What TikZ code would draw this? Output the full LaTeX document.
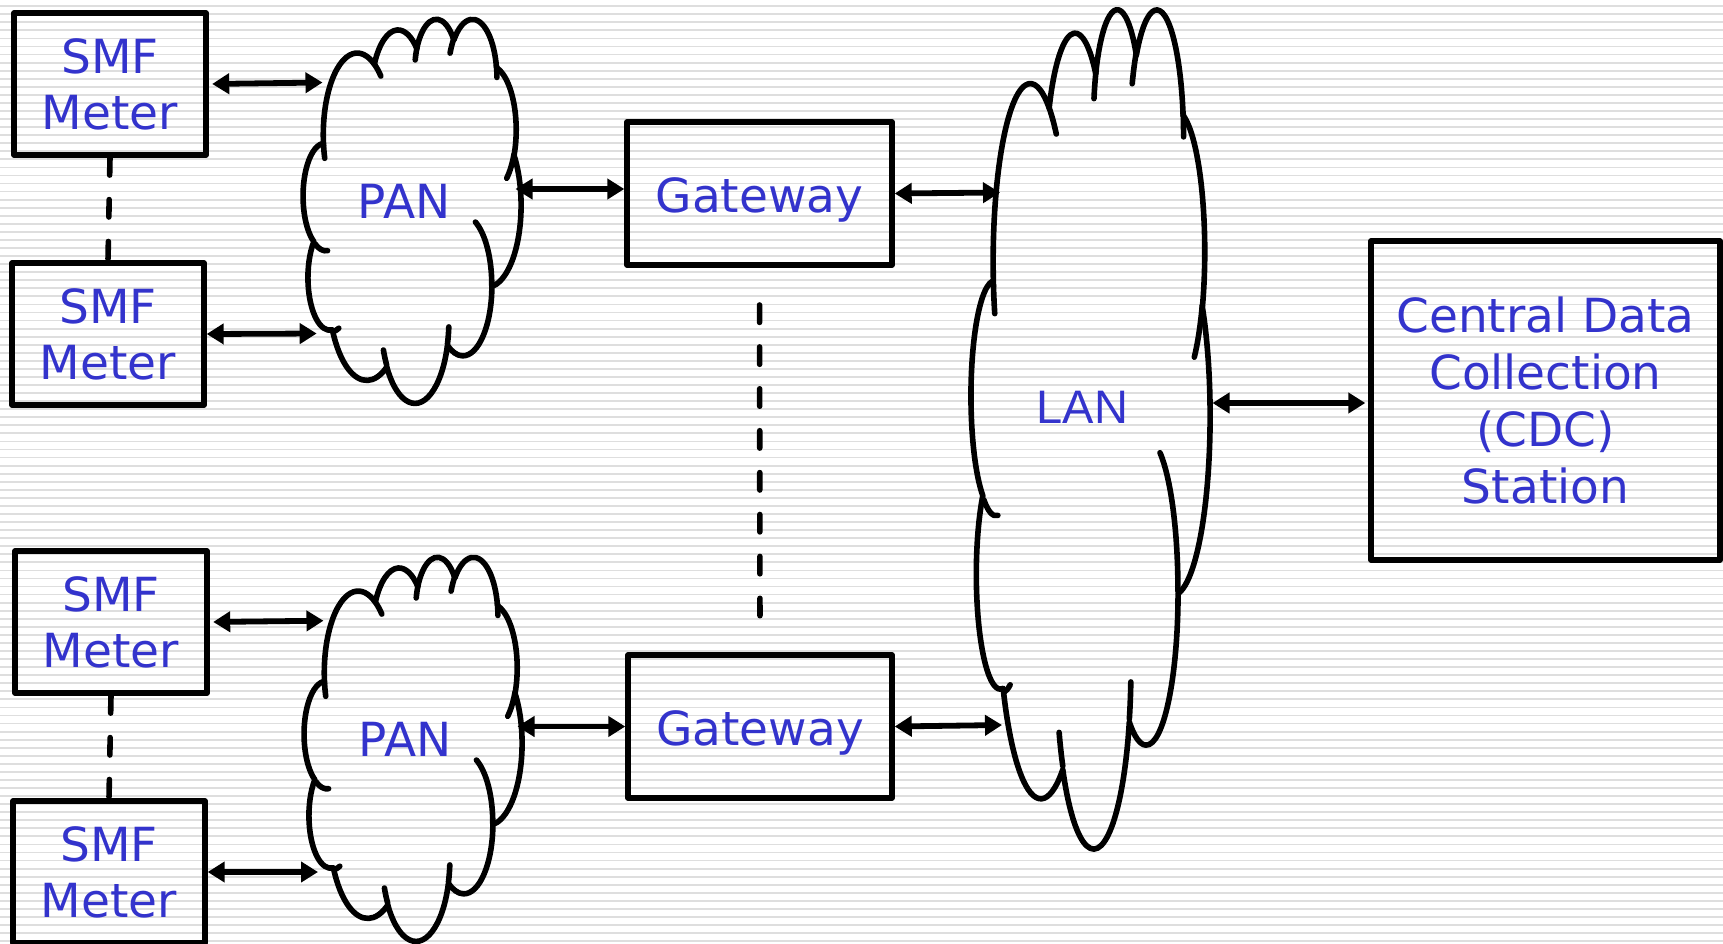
\documentclass[tikz,border=0pt]{standalone}
\usepackage{fontspec}
\setmainfont{DejaVu Sans}
\newfontfamily\lanfont{Liberation Sans}
\usetikzlibrary{arrows.meta}
\definecolor{txtblue}{RGB}{51,51,204}
\definecolor{stripecol}{RGB}{222,222,222}

% visual (DrawingML) angle -> parametric ellipse angle
\pgfmathdeclarefunction{visang}{3}{%
  \begingroup
    \pgfmathparse{atan2(#2*sin(#1),#3*cos(#1))}%
    \let\vtr\pgfmathresult
    \pgfmathparse{#1+atan2(sin(\vtr-(#1)),cos(\vtr-(#1)))}%
    \pgfmathsmuggle\pgfmathresult
  \endgroup}
\newcommand\mkarc[5]{%
  \pgfmathsetmacro\tmpa{visang(#4,#2,#3)}%
  \pgfmathsetmacro\tmpb{visang(#4+#5,#2,#3)}%
  \expandafter\xdef\csname #1\endcsname{arc[x radius=#2,y radius=#3,start angle=\tmpa,end angle=\tmpb]}}
% outline of the cloud
\mkarc{cloudarcA}{6.753}{9.190}{-190.48748}{123.78053}
\mkarc{cloudarcB}{5.333}{7.267}{-144.10238}{89.94523}
\mkarc{cloudarcC}{4.365}{5.945}{-145.80792}{99.72302}
\mkarc{cloudarcD}{4.857}{6.595}{-130.98607}{117.24173}
\mkarc{cloudarcE}{5.333}{7.273}{-78.70888}{109.02692}
\mkarc{cloudarcF}{6.775}{9.220}{-46.26725}{130.269}
\mkarc{cloudarcG}{5.785}{7.867}{0.62502}{114.03333}
\mkarc{cloudarcH}{6.752}{9.215}{22.4516}{115.17255}
\mkarc{cloudarcI}{7.720}{10.543}{66.24263}{78.43775}
\mkarc{cloudarcJ}{4.360}{5.918}{-274.94208}{146.73557}
\mkarc{cloudarcK}{4.345}{5.945}{-246.8285}{152.51885}
% inner creases
\mkarc{creaseA}{4.345}{5.945}{86.742}{26.4295}
\mkarc{creaseB}{4.360}{5.918}{73.61047}{11.44747}
\mkarc{creaseC}{6.752}{9.215}{137.62415}{14.0811}
\mkarc{creaseD}{6.752}{9.215}{6.45327}{15.99835}
\mkarc{creaseE}{5.785}{7.867}{-70.29235}{70.91737}
\mkarc{creaseF}{5.333}{7.273}{30.31803}{27.7515}
\mkarc{creaseG}{4.857}{6.595}{-13.74433}{14.8589}
\mkarc{creaseH}{4.857}{6.595}{-149.18145}{18.19537}
\mkarc{creaseI}{4.365}{5.945}{-163.49427}{17.68635}
\mkarc{creaseJ}{6.753}{9.190}{-66.70695}{12.31935}
\mkarc{creaseK}{6.753}{9.190}{157.65435}{11.85817}

\newcommand\drawcloud[4]{%
  \pgfmathsetmacro\cloudsx{#3/43.2}%
  \pgfmathsetmacro\cloudsy{#4/43.2}%
  \begin{scope}[shift={(#1,#2)},x=\cloudsx pt,y=-\cloudsy pt]
    \draw[cloudline] (3.900,14.370) \cloudarcA \cloudarcB \cloudarcC \cloudarcD
      \cloudarcE \cloudarcF \cloudarcG \cloudarcH \cloudarcI \cloudarcJ \cloudarcK -- cycle;
    \draw[cloudline] (4.693,26.177) \creaseA (6.928,34.899) \creaseB
      (16.478,39.090) \creaseC (28.827,34.751) \creaseD (34.129,22.954) \creaseE
      (41.798,15.354) \creaseF (38.324,5.426) \creaseG (29.078,3.952) \creaseH
      (22.141,4.720) \creaseI (14.000,5.192) \creaseJ (4.127,15.789) \creaseK;
  \end{scope}}

\begin{document}
\begin{tikzpicture}[x=1pt,y=-1pt,
  stripeline/.style={draw=stripecol,line width=1.8pt},
  cloudline/.style={line width=5.6pt,line cap=round,line join=round},
  box/.style={draw,line width=5.4pt,line join=round,inner sep=0pt,align=center,
    text=txtblue,font=\fontsize{47}{57.3}\selectfont},
  cloudtext/.style={inner sep=0pt,text=txtblue,font=\fontsize{47}{56}\selectfont},
  link/.style={line width=5.8pt,{Triangle[length=17pt,width=20pt]}-{Triangle[length=17pt,width=20pt]}},
  dashline/.style={line width=5.6pt,line cap=round,dash pattern=on 17.4pt off 24.5pt}]
\useasboundingbox (0,0) rectangle (1723,943);
\fill[white] (0,0) rectangle (1723,943);
\foreach \k in {0,...,116}{\draw[stripeline] (0,{6.2+8.06*\k}) -- (1723,{6.2+8.06*\k});}

% boxes
\node[box,minimum width=192pt,minimum height=142pt] (box1) at (110,84) {SMF\\[-1.5pt]Meter};
\node[box,minimum width=192pt,minimum height=142pt] (box2) at (108,334) {SMF\\[-1.5pt]Meter};
\node[box,minimum width=192pt,minimum height=142pt] (box3) at (111,622) {SMF\\[-1.5pt]Meter};
\node[box,minimum width=192pt,minimum height=142pt] (box4) at (109,872) {SMF\\[-1.5pt]Meter};
\node[box,minimum width=265pt,minimum height=143pt,text depth=0pt] (gw1) at (759.5,193.5) {\raisebox{-2.5pt}{Gateway}};
\node[box,minimum width=264pt,minimum height=143pt,text depth=0pt] (gw2) at (760,726.5) {\raisebox{-2.5pt}{Gateway}};
\node[box,minimum width=349pt,minimum height=319pt] (cdc) at (1545.5,400.5) {Central Data\\Collection\\(CDC)\\Station};

% clouds
\drawcloud{304}{18}{217}{384}
\drawcloud{305}{556}{217}{384}
\drawcloud{972}{7}{238}{839}
\node[cloudtext] (pan1) at (404,201) {PAN};
\node[cloudtext] (pan2) at (405,739) {PAN};
\node[cloudtext,font=\lanfont\fontsize{47}{56}\selectfont] (lan) at (1082.5,407) {LAN};

% contact points on the clouds
\coordinate (p1a) at (322.5,82.5);
\coordinate (p1b) at (316.7,333.5);
\coordinate (p1c) at (515.5,189);
\coordinate (p2a) at (323.5,620.7);
\coordinate (p2b) at (318,872);
\coordinate (p2c) at (517.5,726.5);
\coordinate (lana) at (1000,192.5);
\coordinate (lanb) at (1002,725);
\coordinate (lanc) at (1212.5,403);

% connectors
\draw[link,shorten <=3.5pt] (box1.east) -- (p1a);
\draw[link] (box2.east) -- (p1b);
\draw[link,shorten <=3.5pt] (box3.east) -- (p2a);
\draw[link] (box4.east) -- (p2b);
\draw[link] (p1c) -- (p1c -| gw1.west);
\draw[link] (p2c) -- (p2c -| gw2.west);
\draw[link] (gw1.east) -- (lana);
\draw[link] (gw2.east) -- (lanb);
\draw[link,shorten >=3pt] (lanc) -- (lanc -| cdc.west);

% dashed links
\draw[dashline] (box1.south) -- (box2.north);
\draw[dashline] (box3.south) -- (box4.north);
\draw[dashline,shorten <=37.3pt,shorten >=35.3pt] (gw1.south) -- (gw2.north);
\end{tikzpicture}
\end{document}
